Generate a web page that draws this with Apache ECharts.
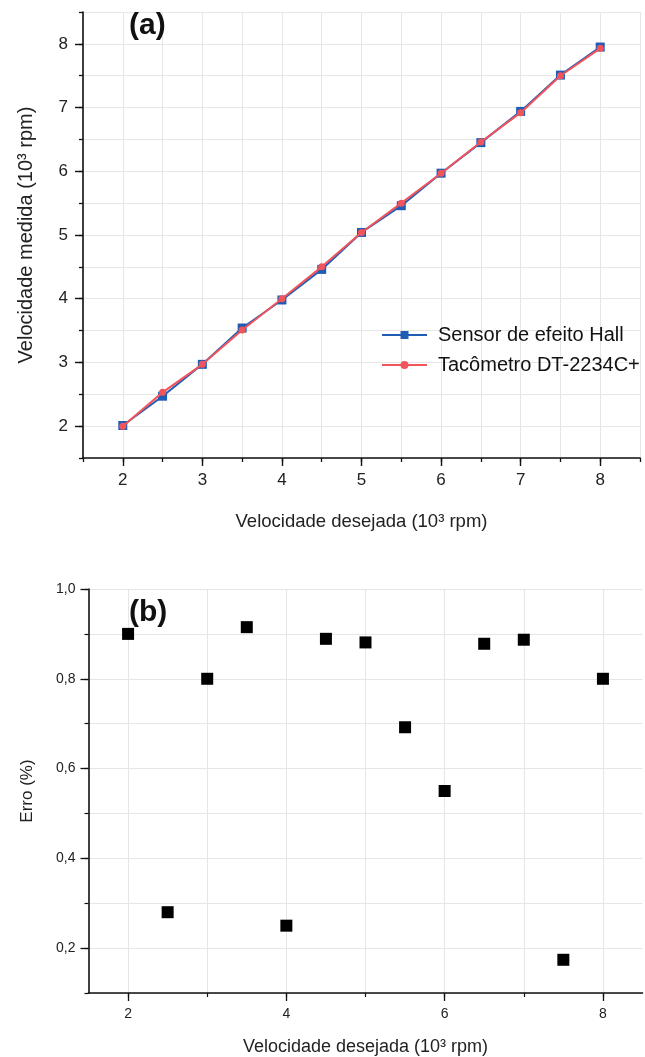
<!DOCTYPE html>
<html>
<head>
<meta charset="utf-8">
<script src="https://cdn.jsdelivr.net/npm/echarts@6/dist/echarts.min.js"></script>
<style>html,body{margin:0;padding:0;background:#fff}#c{width:645px;height:1057px}</style>
</head>
<body>
<div id="c"></div>
<script>
// ---- data ----
const xVals = [2, 2.5, 3, 3.5, 4, 4.5, 5, 5.5, 6, 6.5, 7, 7.5, 8];
const hallVals = [2.01, 2.47, 2.97, 3.54, 3.98, 4.46, 5.04, 5.46, 5.97, 6.45, 6.94, 7.51, 7.95];
const tacoVals = [2.00, 2.53, 2.97, 3.51, 4.00, 4.50, 5.04, 5.50, 5.97, 6.46, 6.92, 7.50, 7.93];
const erroVals = [0.90, 0.28, 0.80, 0.915, 0.25, 0.889, 0.881, 0.692, 0.55, 0.878, 0.887, 0.174, 0.80];
const seriesNames = ['Sensor de efeito Hall', 'Tacômetro DT-2234C+'];
const majorTicksA = [2, 3, 4, 5, 6, 7, 8];
const xTicksB = [2, 3, 4, 5, 6, 7, 8];
const xLabelsB = [2, 4, 6, 8];
const yLabelsB = [0.2, 0.4, 0.6, 0.8, 1.0];

const FONT = 'Liberation Sans, Arial, sans-serif';
const pair = (xs, ys) => xs.map((x, i) => [x, ys[i]]);
const gridLine = { show: true, lineStyle: { color: '#e6e6e6', width: 1 } };
const axisLine = { show: true, onZero: false, lineStyle: { color: '#111', width: 1.6 } };
const noLine = { show: false };
const minorTick = (len) => ({ show: true, inside: false, length: len, lineStyle: { color: '#111', width: 1.3 } });
const commaFmt = v => (Math.round(v * 10) / 10).toFixed(1).replace('.', ',');

const chart = echarts.init(document.getElementById('c'), null, { renderer: 'canvas' });
chart.setOption({
  animation: false,
  backgroundColor: '#fff',
  textStyle: { fontFamily: FONT },
  title: [
    { text: '(a)', left: 124, top: 6, textStyle: { fontSize: 30, fontWeight: 'bold', color: '#111', fontFamily: FONT } },
    { text: '(b)', left: 124, top: 593, textStyle: { fontSize: 30, fontWeight: 'bold', color: '#111', fontFamily: FONT } }
  ],
  legend: {
    data: seriesNames,
    orient: 'vertical',
    left: 376, top: 320,
    itemWidth: 45, itemHeight: 10, itemGap: 10,
    textStyle: { fontSize: 20, color: '#111', fontFamily: FONT, padding: [0, 0, 0, 6] }
  },
  grid: [
    { left: 83, top: 12, right: 5, height: 446 },
    { left: 88.5, top: 589, right: 2.5, height: 404 }
  ],
  xAxis: [
    { // (a) main: minor ticks + grid every 0.5
      gridIndex: 0, type: 'value', min: 1.5, max: 8.5, interval: 0.5, position: 'bottom',
      name: 'Velocidade desejada (10³ rpm)', nameLocation: 'middle', nameGap: 54,
      nameTextStyle: { fontSize: 18.5, color: '#222' },
      axisLine: axisLine, axisTick: minorTick(4),
      axisLabel: { show: false },
      splitLine: gridLine
    },
    { // (a) overlay: major ticks + labels
      gridIndex: 0, type: 'value', min: 1.5, max: 8.5, position: 'bottom', offset: 0,
      axisLine: noLine,
      axisTick: { show: true, length: 8, customValues: majorTicksA, lineStyle: { color: '#111', width: 1.4 } },
      axisLabel: { fontSize: 17, color: '#222', margin: 14, customValues: majorTicksA },
      splitLine: { show: false }
    },
    { // (b) main
      gridIndex: 1, type: 'value', min: 1.5, max: 8.5, position: 'bottom',
      name: 'Velocidade desejada (10³ rpm)', nameLocation: 'middle', nameGap: 45,
      nameTextStyle: { fontSize: 18, color: '#222' },
      axisLine: axisLine,
      axisTick: { show: true, length: 4, customValues: xTicksB, lineStyle: { color: '#111', width: 1.2 } },
      axisLabel: { show: false },
      splitLine: gridLine
    },
    { // (b) overlay
      gridIndex: 1, type: 'value', min: 1.5, max: 8.5, position: 'bottom', offset: 0,
      axisLine: noLine,
      axisTick: { show: true, length: 8, customValues: xLabelsB, lineStyle: { color: '#111', width: 1.3 } },
      axisLabel: { fontSize: 14, color: '#222', margin: 14, customValues: xLabelsB },
      splitLine: { show: false }
    }
  ],
  yAxis: [
    {
      gridIndex: 0, type: 'value', min: 1.5, max: 8.5, interval: 0.5, position: 'left',
      name: 'Velocidade medida (10³ rpm)', nameLocation: 'middle', nameGap: 47,
      nameTextStyle: { fontSize: 20, color: '#222' },
      axisLine: axisLine, axisTick: minorTick(4),
      axisLabel: { show: false },
      splitLine: gridLine
    },
    {
      gridIndex: 0, type: 'value', min: 1.5, max: 8.5, position: 'left', offset: 0,
      axisLine: noLine,
      axisTick: { show: true, length: 8, customValues: majorTicksA, lineStyle: { color: '#111', width: 1.4 } },
      axisLabel: { fontSize: 17, color: '#222', margin: 15, customValues: majorTicksA },
      splitLine: { show: false }
    },
    {
      gridIndex: 1, type: 'value', min: 0.1, max: 1.0, interval: 0.1, position: 'left',
      name: 'Erro (%)', nameLocation: 'middle', nameGap: 53,
      nameTextStyle: { fontSize: 17, color: '#222' },
      axisLine: axisLine,
      axisTick: { show: true, length: 4, lineStyle: { color: '#111', width: 1.2 } },
      axisLabel: { show: false },
      splitLine: gridLine
    },
    {
      gridIndex: 1, type: 'value', min: 0.1, max: 1.0, position: 'left', offset: 0,
      axisLine: noLine,
      axisTick: { show: true, length: 8, customValues: yLabelsB, lineStyle: { color: '#111', width: 1.3 } },
      axisLabel: { fontSize: 14, color: '#222', margin: 13, customValues: yLabelsB, formatter: commaFmt },
      splitLine: { show: false }
    }
  ],
  series: [
    {
      name: seriesNames[0], type: 'line', xAxisIndex: 0, yAxisIndex: 0,
      data: pair(xVals, hallVals),
      symbol: 'rect', symbolSize: 9,
      lineStyle: { color: '#1f5db5', width: 2 },
      itemStyle: { color: '#1f5db5' }, z: 2
    },
    {
      name: seriesNames[1], type: 'line', xAxisIndex: 0, yAxisIndex: 0,
      data: pair(xVals, tacoVals),
      symbol: 'circle', symbolSize: 7,
      lineStyle: { color: '#f2545b', width: 2 },
      itemStyle: { color: '#f2545b' }, z: 3
    },
    {
      name: 'Erro', type: 'scatter', xAxisIndex: 2, yAxisIndex: 2,
      data: pair(xVals, erroVals),
      symbol: 'rect', symbolSize: 12,
      itemStyle: { color: '#000', opacity: 1 }
    }
  ]
});
</script>
</body>
</html>
